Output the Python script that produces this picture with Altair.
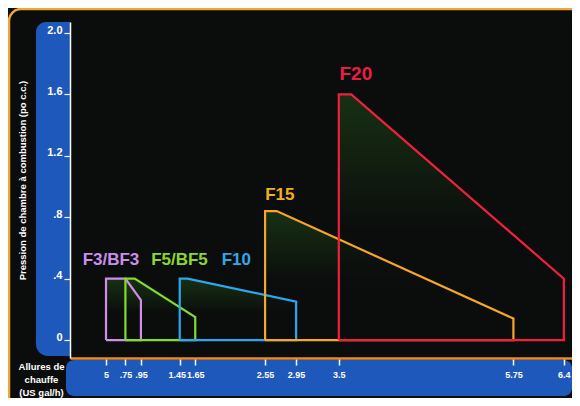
import altair as alt
import pandas as pd

# ---- data ----
series = ["F3/BF3", "F5/BF5", "F10", "F15", "F20"]
x_start = [0.5, 0.75, 1.45, 2.55, 3.5]      # US gal/h where range begins
x_knee = [0.75, 0.87, 1.55, 2.7, 3.66]      # end of flat top
x_end = [0.95, 1.65, 2.95, 5.75, 6.4]       # US gal/h where range ends
p_max = [0.4, 0.4, 0.4, 0.84, 1.6]          # max chamber pressure
p_end = [0.26, 0.15, 0.25, 0.14, 0.4]       # pressure at max firing rate
label_x = [0.564, 1.447, 2.18, 2.74, 3.72]
label_y = [0.52, 0.52, 0.52, 0.945, 1.73]
line_colors = ["#d08ee6", "#84dc2a", "#2aa8f0", "#f7a626", "#f0203c"]
text_colors = ["#c890e8", "#8cd830", "#30a8e8", "#f0b020", "#e82040"]

x_tick_values = [0.5, 0.75, 0.95, 1.45, 1.65, 2.55, 2.95, 3.5, 5.75, 6.4]
x_tick_labels = ["5", ".75", ".95", "1.45", "1.65", "2.55", "2.95", "3.5", "5.75", "6.4"]
y_tick_values = [round(i * 0.1, 1) for i in range(21)]
y_label_values = [0, 0.4, 0.8, 1.2, 1.6, 2.0]
y_label_texts = ["0", ".4", ".8", "1.2", "1.6", "2.0"]

FONT = "Liberation Sans, Arial, sans-serif"
BLUE = "#1f58bb"

# ---- tables built from the lists ----
outline_rows, area_rows = [], []
for s, a, k, e, pm, pe in zip(series, x_start, x_knee, x_end, p_max, p_end):
    pts = [(a, 0), (a, pm), (k, pm), (e, pe), (e, 0), (a, 0)]
    for i, (x, y) in enumerate(pts):
        outline_rows.append({"series": s, "i": i, "x": x, "p": y})
    for x, y in [(a, pm), (k, pm), (e, pe)]:
        area_rows.append({"series": s, "x": x, "p": y})
outline = pd.DataFrame(outline_rows)
areas = pd.DataFrame(area_rows)
labels = pd.DataFrame({"series": series, "x": label_x, "p": label_y})

x_expr = ""
for v, t in zip(x_tick_values, x_tick_labels):
    x_expr += f"abs(datum.value - {v}) < 0.001 ? '{t}' : "
x_expr += "''"
y_expr = ""
for v, t in zip(y_label_values, y_label_texts):
    y_expr += f"round(datum.value * 10) == {round(v * 10)} ? '{t}' : "
y_expr += "''"

xscale = alt.Scale(domain=[0.036, 6.505], nice=False, zero=False)
yscale = alt.Scale(domain=[-0.117, 2.072], nice=False, zero=False)

x_axis = alt.Axis(
    values=x_tick_values, labelExpr=x_expr, grid=False, zindex=2,
    domainColor="#f08a20", domainWidth=2.5, tickColor="white", tickWidth=1.5,
    tickSize=7, labelColor="white", labelFont=FONT, labelFontSize=9,
    labelFontWeight="bold", labelPadding=5, labelOverlap=False, labelFlush=False,
    labelBound=False,
    labelOffset={"condition": {"test": "abs(datum.value - 1.45) < 0.001", "value": -3},
                 "value": 0},
    title=["Allures de", "chauffe", "(US gal/h)"], titleColor="white",
    titleFont=FONT, titleFontSize=9.5, titleFontWeight="bold",
    titleX=-29, titleY=3, titleBaseline="top", titleAlign="center",
    titleLineHeight=13, titleAnchor="start",
)
y_axis = alt.Axis(
    values=y_tick_values, labelExpr=y_expr, grid=False, zindex=2,
    domainColor="white", domainWidth=1.5, tickColor="white", tickWidth=1.2,
    tickSize=6, labelColor="white", labelFont=FONT, labelFontSize=11,
    labelFontWeight="bold", labelPadding=2, labelBaseline="alphabetic",
    labelOverlap=False, labelFlush=False, labelBound=False,
    title="Pression de chambre à combustion (po c.c.)", titleColor="white",
    titleFont=FONT, titleFontSize=9.5, titleFontWeight="bold",
    titleX=-48, titleY=158, titleAngle=270, titleAlign="center",
    titleBaseline="middle",
)

dummy = alt.Data(values=[{"d": 0}])
border = alt.Chart(dummy).mark_rect(
    fill="transparent", stroke="#f3a535", strokeWidth=2.5, cornerRadius=12
).encode(x=alt.value(-61), x2=alt.value(560), y=alt.value(-13), y2=alt.value(430))
yband = alt.Chart(dummy).mark_rect(
    color=BLUE, cornerRadiusTopLeft=10, cornerRadiusBottomLeft=12
).encode(x=alt.value(-34), x2=alt.value(0), y=alt.value(0), y2=alt.value(334))
xband = alt.Chart(dummy).mark_rect(color=BLUE, cornerRadius=8).encode(
    x=alt.value(-4), x2=alt.value(502), y=alt.value(338), y2=alt.value(374)
)

grad = alt.Gradient(
    gradient="linear",
    stops=[alt.GradientStop(color="#1f4818", offset=0),
           alt.GradientStop(color="#0b0d0c", offset=0.55)],
    x1=0, x2=0, y1=0, y2=1,
)

base_axes = alt.Chart(outline).mark_line(opacity=0).encode(
    x=alt.X("x:Q", scale=xscale, axis=x_axis),
    y=alt.Y("p:Q", scale=yscale, axis=y_axis),
)

area_layers, line_layers, text_layers = [], [], []
for s, lc, tc in zip(series, line_colors, text_colors):
    area_layers.append(
        alt.Chart(areas).transform_filter(alt.datum.series == s)
        .mark_area(color=grad, opacity=0.6)
        .encode(x=alt.X("x:Q", scale=xscale), y=alt.Y("p:Q", scale=yscale), y2=alt.datum(0))
    )
    line_layers.append(
        alt.Chart(outline).transform_filter(alt.datum.series == s)
        .mark_line(color=lc, strokeWidth=2.2, strokeJoin="miter")
        .encode(x=alt.X("x:Q", scale=xscale), y=alt.Y("p:Q", scale=yscale), order="i:Q")
    )
    text_layers.append(
        alt.Chart(labels).transform_filter(alt.datum.series == s)
        .mark_text(color=tc, font=FONT, fontWeight="bold",
                   fontSize=19 if s == "F20" else 17, align="center", baseline="middle")
        .encode(x=alt.X("x:Q", scale=xscale), y=alt.Y("p:Q", scale=yscale), text="series:N")
    )

chart = alt.layer(
    border, yband, xband, base_axes, *area_layers, *line_layers, *text_layers
).properties(
    width=502, height=336, autosize="none",
    padding={"left": 62, "top": 14, "right": 0, "bottom": 40},
    background="#0b0d0c",
).configure_view(strokeWidth=0)

chart.save("out.html", embed_options={"renderer": "svg", "actions": False})
